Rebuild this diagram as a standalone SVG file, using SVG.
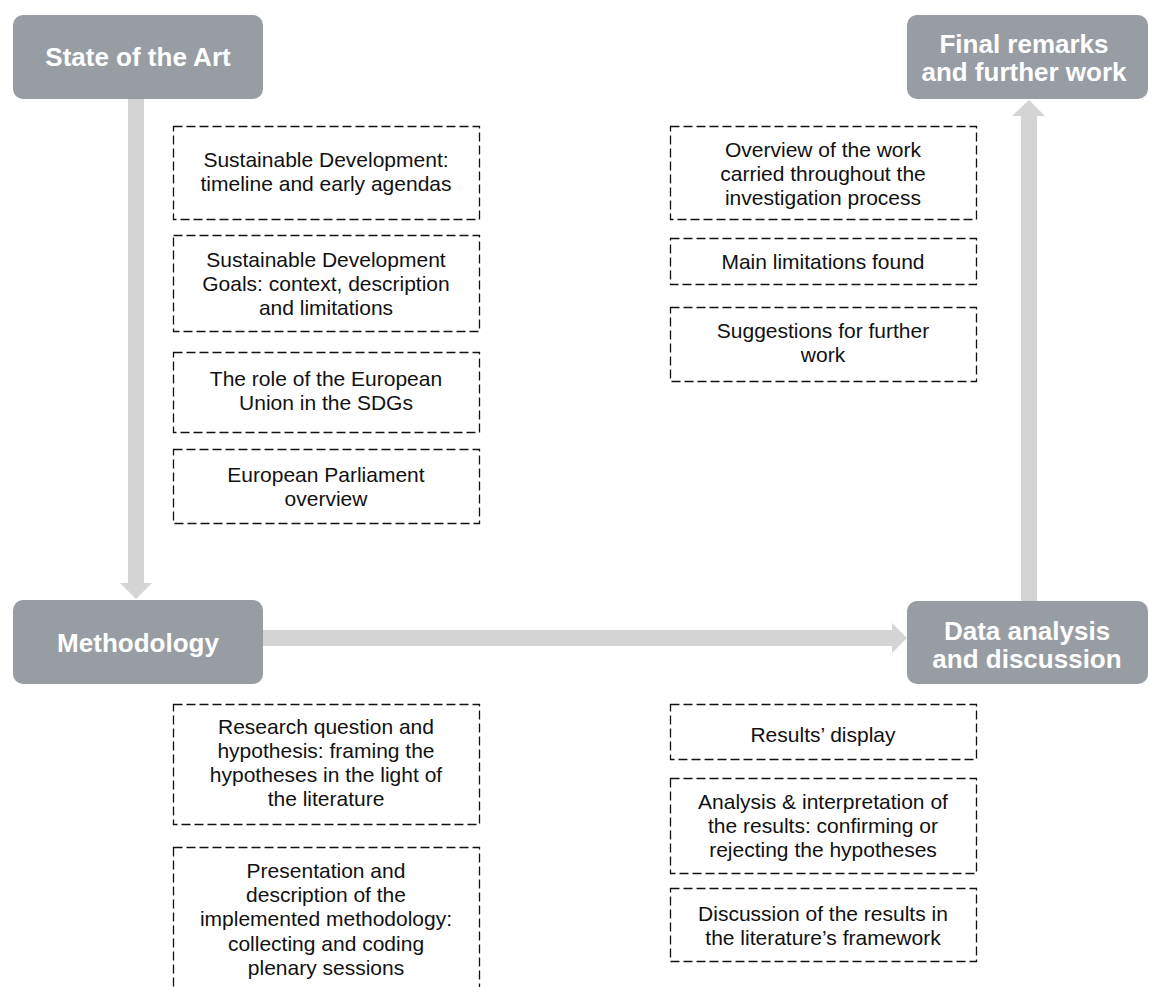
<svg xmlns="http://www.w3.org/2000/svg" width="1149" height="987" viewBox="0 0 1149 987">
<defs>
<style>
.node rect{fill:#989DA4}
.node text{font-family:"Liberation Sans",Arial,sans-serif;font-weight:bold;font-size:26px;fill:#fff;text-anchor:middle}
.item rect{fill:#fff;stroke:#111;stroke-width:1.3;stroke-dasharray:9,4}
.item text{font-family:"Liberation Sans",Arial,sans-serif;font-size:21px;fill:#111;text-anchor:middle}
.arrow{fill:#D4D4D4}
</style>
</defs>
<rect width="1149" height="987" fill="#fff"/>
<g id="connectors">
<polygon class="arrow" points="128,99 144,99 144,583 152,583 136,599 120,583 128,583"/>
<polygon class="arrow" points="263,630 892,630 892,623 907,638 892,653 892,646 263,646"/>
<polygon class="arrow" points="1021,601 1021,116 1012,116 1029,100 1045,116 1037,116 1037,601"/>
</g>
<g id="node-state-of-the-art" class="node">
<rect x="13" y="15" width="250" height="84" rx="10"/>
<text x="138" y="66">State of the Art</text>
</g>
<g id="node-methodology" class="node">
<rect x="13" y="600" width="250" height="84" rx="10"/>
<text x="138" y="652">Methodology</text>
</g>
<g id="node-data-analysis" class="node">
<rect x="907" y="601" width="241" height="83" rx="10"/>
<text x="1027" y="640">Data analysis</text>
<text x="1027" y="668">and discussion</text>
</g>
<g id="node-final-remarks" class="node">
<rect x="907" y="15" width="241" height="84" rx="10"/>
<text x="1024" y="53">Final remarks</text>
<text x="1024" y="81">and further work</text>
</g>
<g id="item-sd-timeline" class="item">
<rect x="173.5" y="126.5" width="306" height="93"/>
<text x="326" y="167">Sustainable Development:</text>
<text x="326" y="191">timeline and early agendas</text>
</g>
<g id="item-sdgs" class="item">
<rect x="173.5" y="235.5" width="306" height="96"/>
<text x="326" y="267">Sustainable Development</text>
<text x="326" y="291">Goals: context, description</text>
<text x="326" y="315">and limitations</text>
</g>
<g id="item-eu-role" class="item">
<rect x="173.5" y="352.5" width="306" height="80"/>
<text x="326" y="386">The role of the European</text>
<text x="326" y="410">Union in the SDGs</text>
</g>
<g id="item-ep-overview" class="item">
<rect x="173.5" y="449.5" width="306" height="74"/>
<text x="326" y="482">European Parliament</text>
<text x="326" y="506">overview</text>
</g>
<g id="item-overview-work" class="item">
<rect x="670.5" y="126.5" width="306" height="93"/>
<text x="823" y="157">Overview of the work</text>
<text x="823" y="181">carried throughout the</text>
<text x="823" y="205">investigation process</text>
</g>
<g id="item-limitations" class="item">
<rect x="670.5" y="238.5" width="306" height="46"/>
<text x="823" y="269">Main limitations found</text>
</g>
<g id="item-suggestions" class="item">
<rect x="670.5" y="307.5" width="306" height="74"/>
<text x="823" y="338">Suggestions for further</text>
<text x="823" y="362">work</text>
</g>
<g id="item-research-question" class="item">
<rect x="173.5" y="704.5" width="306" height="120"/>
<text x="326" y="734">Research question and</text>
<text x="326" y="758">hypothesis: framing the</text>
<text x="326" y="782">hypotheses in the light of</text>
<text x="326" y="806">the literature</text>
</g>
<g id="item-methodology-description" class="item">
<rect x="173.5" y="847.5" width="306" height="160"/>
<text x="326" y="878">Presentation and</text>
<text x="326" y="902">description of the</text>
<text x="326" y="926">implemented methodology:</text>
<text x="326" y="951">collecting and coding</text>
<text x="326" y="975">plenary sessions</text>
</g>
<g id="item-results-display" class="item">
<rect x="670.5" y="704.5" width="306" height="55"/>
<text x="823" y="742">Results’ display</text>
</g>
<g id="item-analysis" class="item">
<rect x="670.5" y="778.5" width="306" height="95"/>
<text x="823" y="809">Analysis &amp; interpretation of</text>
<text x="823" y="833">the results: confirming or</text>
<text x="823" y="857">rejecting the hypotheses</text>
</g>
<g id="item-discussion" class="item">
<rect x="670.5" y="888.5" width="306" height="73"/>
<text x="823" y="921">Discussion of the results in</text>
<text x="823" y="945">the literature’s framework</text>
</g>
</svg>
